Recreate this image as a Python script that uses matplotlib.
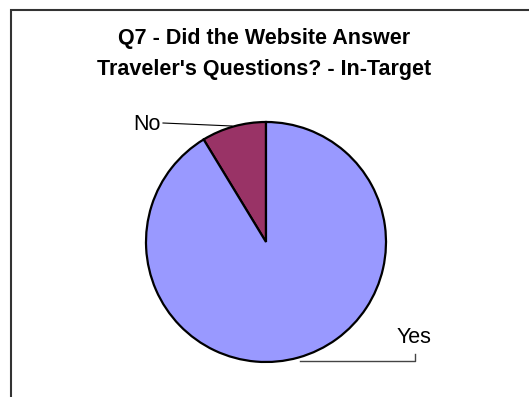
import matplotlib.pyplot as plt
from matplotlib.patches import Rectangle

plt.rcParams['font.family'] = ['Liberation Sans', 'DejaVu Sans']

# answers and their shares (%)
answers = ['No', 'Yes']
shares = [8.7, 91.3]
colors = ['#993366', '#9999FF']
title_lines = ["Q7 - Did the Website Answer", "Traveler's Questions? - In-Target"]

W, H = 529, 397
fig = plt.figure(figsize=(W / 100, H / 100), dpi=100)


def px(x, y):
    return (x / W, 1 - y / H)


# chart area frame, running off the right and bottom edges
fig.patches.append(Rectangle((11 / W, -0.1), 1.2, 1.1 - 10 / H, transform=fig.transFigure,
                             fill=False, edgecolor='#333333', linewidth=1.5))

# two-line title, placed by baseline
for line, base in zip(title_lines, [44, 75]):
    fig.text(*px(264, base), line, ha='center', va='baseline', fontsize=15.5,
             fontweight='bold')

# pie: centre (266, 242) px, radius 120 px
ax = fig.add_axes([146 / W, 1 - 362 / H, 240 / W, 240 / H])
ax.pie(shares, colors=colors, startangle=90, counterclock=True,
       wedgeprops=dict(edgecolor='black', linewidth=1.6))
ax.set_xlim(-1, 1)
ax.set_ylim(-1, 1)
ax.set_aspect('equal')
ax.axis('off')

# "No" label with leader
fig.add_artist(plt.Line2D([163 / W, 232 / W], [1 - 123 / H, 1 - 126 / H],
                          color='black', linewidth=0.8))
fig.text(*px(161, 130), answers[0], ha='right', va='baseline', fontsize=15.5)

# "Yes" label with leader
fig.add_artist(plt.Line2D([300 / W, 415 / W, 415 / W], [1 - 361 / H, 1 - 361 / H, 1 - 354 / H],
                          color='#444444', linewidth=1.0))
fig.text(*px(414, 343), answers[1], ha='center', va='baseline', fontsize=15.5)

fig.savefig('out.png', dpi=100, facecolor='white')
